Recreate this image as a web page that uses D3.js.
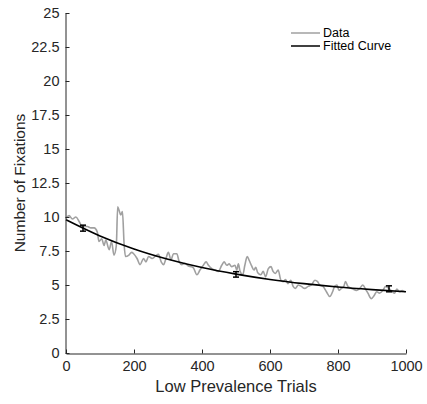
<!DOCTYPE html>
<html>
<head>
<meta charset="utf-8">
<script src="https://cdn.jsdelivr.net/npm/d3@7"></script>
<style>
  body { margin: 0; background: #fff; }
  svg { display: block; font-family: "Liberation Sans", Arial, sans-serif; }
</style>
</head>
<body>
<svg id="chart" width="427" height="404"></svg>
<script>
// ---- data ----
const trials = [0,9,19,29,39,48,63,73,83,92,97,105,112,117,127,134,141,148,152,156,161,166,171,175,185,193,199,209,218,228,235,243,253,262,272,280,287,294,301,309,316,326,333,341,350,360,368,375,385,394,404,412,419,429,438,448,458,465,473,480,487,497,502,507,512,520,526,533,539,546,553,558,564,573,580,587,595,603,609,616,624,632,639,646,653,661,668,675,683,692,702,712,722,732,740,746,756,766,776,784,790,797,803,810,817,822,829,836,844,854,864,873,881,888,898,907,914,922,932,940,947,956,966,973,981,989,997];
const fixations = [9.9,10.1,9.85,10.0,9.65,9.3,9.3,9.2,9.2,8.9,8.2,8.4,7.9,8.3,7.6,8.2,7.2,7.9,10.75,10.5,10.15,10.4,7.95,7.1,7.2,7.4,7.3,6.95,6.5,6.95,6.7,7.1,6.95,7.1,7.25,6.7,6.5,6.95,7.4,6.85,7.3,7.3,6.7,6.5,6.6,6.4,6.35,6.25,5.75,6.1,6.45,6.7,6.45,6.2,6.1,6.0,6.45,6.7,6.45,6.55,6.35,6.45,6.1,6.55,6.0,5.75,6.45,7.1,6.8,6.4,6.1,6.3,5.9,5.75,6.0,5.6,6.2,6.35,6.0,5.85,6.1,5.35,5.25,5.4,5.1,5.35,4.9,4.75,5.0,4.9,4.75,4.9,5.0,5.35,5.25,5.0,4.9,4.5,4.15,4.5,4.9,5.0,4.6,4.75,4.9,5.25,4.9,4.8,4.7,4.6,4.75,5.0,4.7,4.4,4.0,4.25,4.5,4.4,4.6,4.9,4.8,4.6,4.4,4.7,4.5,4.6,4.5];

const fitTrials = [0,100,200,300,400,500,600,700,800,900,1000];
const fitValues = [9.8,8.61,7.65,6.89,6.28,5.8,5.41,5.10,4.85,4.66,4.50];

const errTrials = [50,500,950];
const errMean = [9.18,5.78,4.72];
const errHalf = [0.22,0.2,0.22];

const xTicks = [0,200,400,600,800,1000];
const yTicks = [0,2.5,5,7.5,10,12.5,15,17.5,20,22.5,25];
const legendLabels = ["Data","Fitted Curve"];
const legendColors = ["#a0a0a0","#000000"];

// ---- drawing ----
const svg = d3.select("#chart");
const x = d3.scaleLinear().domain([0,1000]).range([66,406]);
const y = d3.scaleLinear().domain([0,25]).range([353,13]);
const axisColor = "#262626";

// data line
svg.append("path")
  .datum(trials.map((t,i)=>[t,fixations[i]]))
  .attr("fill","none").attr("stroke","#a0a0a0").attr("stroke-width",1.6)
  .attr("stroke-linejoin","round")
  .attr("d", d3.line().curve(d3.curveMonotoneX).x(d=>x(d[0])).y(d=>y(d[1])));

// fitted curve
svg.append("path")
  .datum(fitTrials.map((t,i)=>[t,fitValues[i]]))
  .attr("fill","none").attr("stroke","#000").attr("stroke-width",1.6)
  .attr("d", d3.line().curve(d3.curveMonotoneX).x(d=>x(d[0])).y(d=>y(d[1])));

// error bars
const eb = svg.append("g").attr("stroke","#000").attr("stroke-width",1.5);
errTrials.forEach((t,i)=>{
  const cx = x(t), y0 = y(errMean[i]-errHalf[i]), y1 = y(errMean[i]+errHalf[i]);
  eb.append("line").attr("x1",cx).attr("x2",cx).attr("y1",y0).attr("y2",y1);
  eb.append("line").attr("x1",cx-3).attr("x2",cx+3).attr("y1",y0).attr("y2",y0);
  eb.append("line").attr("x1",cx-3).attr("x2",cx+3).attr("y1",y1).attr("y2",y1);
});

// axes
const xAxis = svg.append("g").attr("transform","translate(0,353.5)")
  .call(d3.axisBottom(x).tickValues(xTicks).tickSize(-4).tickSizeOuter(0).tickPadding(7).tickFormat(d3.format("d")));
const yAxis = svg.append("g").attr("transform","translate(65.5,0)")
  .call(d3.axisLeft(y).tickValues(yTicks).tickSize(-4).tickSizeOuter(0).tickPadding(6).tickFormat(d=>String(d)));
[xAxis,yAxis].forEach(g=>{
  g.select(".domain").attr("stroke",axisColor);
  g.selectAll(".tick line").attr("stroke",axisColor);
  g.selectAll(".tick text").attr("fill",axisColor).attr("font-size",14.5).attr("font-family","Liberation Sans, Arial, sans-serif");
});

// axis labels
svg.append("text").attr("x",236).attr("y",392).attr("text-anchor","middle")
  .attr("font-size",16.5).attr("fill",axisColor).text("Low Prevalence Trials");
svg.append("text").attr("transform","translate(25,183) rotate(-90)").attr("text-anchor","middle")
  .attr("font-size",15.5).attr("fill",axisColor).text("Number of Fixations");

// legend
legendLabels.forEach((lab,i)=>{
  const ly = 33 + i*13;
  svg.append("line").attr("x1",291).attr("x2",320).attr("y1",ly).attr("y2",ly)
    .attr("stroke",legendColors[i]).attr("stroke-width",1.5);
  svg.append("text").attr("x",323).attr("y",ly).attr("dy","0.35em")
    .attr("font-size",12.5).attr("fill","#000").text(lab);
});
</script>
</body>
</html>
